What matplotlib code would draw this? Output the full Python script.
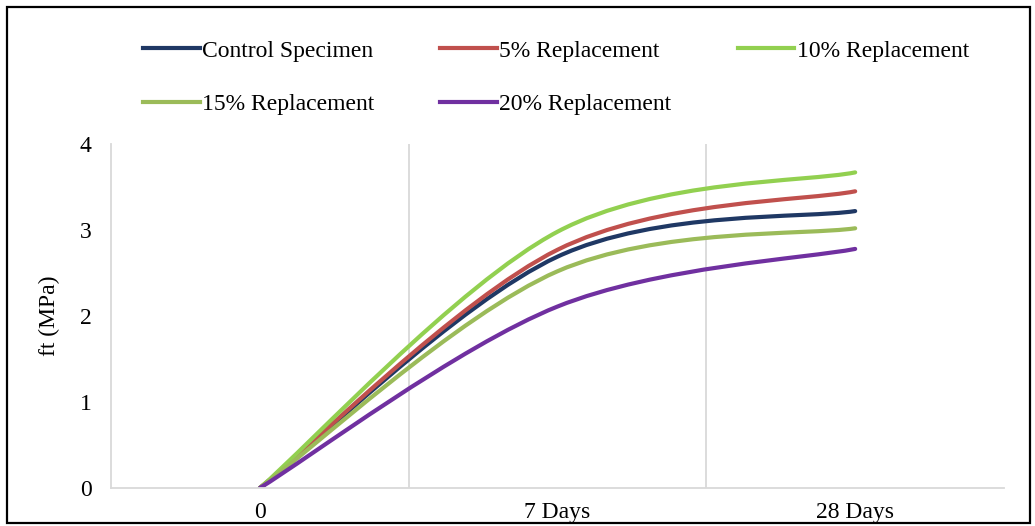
import numpy as np
import matplotlib.pyplot as plt
from matplotlib.path import Path
from matplotlib.patches import PathPatch, Rectangle
from matplotlib.lines import Line2D

kategoriler = ["0", "7 Days", "28 Days"]
kontrol = [0, 2.69, 3.22]
yuzde5 = [0, 2.77, 3.45]
yuzde10 = [0, 2.98, 3.67]
yuzde15 = [0, 2.52, 3.02]
yuzde20 = [0, 2.11, 2.78]

seriler = [
    ("Control Specimen", kontrol, "#1F3864"),
    ("5% Replacement", yuzde5, "#C0504D"),
    ("10% Replacement", yuzde10, "#92D050"),
    ("15% Replacement", yuzde15, "#9BBB59"),
    ("20% Replacement", yuzde20, "#7030A0"),
]


def yumusak_yol(xs, ys):
    # Excel benzeri yumusak cizgi (Catmull-Rom -> Bezier)
    p = np.column_stack([xs, ys]).astype(float)
    n = len(p)
    verts = [p[0]]
    codes = [Path.MOVETO]
    for i in range(n - 1):
        p0 = p[i - 1] if i > 0 else p[i]
        p1 = p[i]
        p2 = p[i + 1]
        p3 = p[i + 2] if i + 2 < n else p[i + 1]
        c1 = p1 + (p2 - p0) / 6.0
        c2 = p2 - (p3 - p1) / 6.0
        verts += [c1, c2, p2]
        codes += [Path.CURVE4] * 3
    return Path(verts, codes)


plt.rcParams['font.family'] = ['Liberation Serif', 'DejaVu Serif']
fig = plt.figure(figsize=(10.35, 5.26), dpi=100)
ax = fig.add_axes([111 / 1035, 1 - 488 / 526, (1004 - 111) / 1035, (488 - 144) / 526])

x = np.arange(len(kategoriler))
handles = []
for ad, deger, renk in seriler:
    yol = yumusak_yol(x, deger)
    ax.add_patch(PathPatch(yol, fill=False, edgecolor=renk, lw=3.0, capstyle='round'))
    handles.append(Line2D([], [], color=renk, lw=3.0, label=ad))

ax.set_xlim(-0.5, len(kategoriler) - 0.5)
ax.set_ylim(0, 4)
ax.set_xticks(x)
ax.set_xticklabels(kategoriler, fontsize=17)
ax.set_yticks([0, 1, 2, 3, 4])
ax.set_yticklabels(["0", "1", "2", "3", "4"], fontsize=17)
ax.tick_params(length=0)
ax.tick_params(axis='y', pad=14)
ax.tick_params(axis='x', pad=10)
for v in [0.5, 1.5]:
    ax.axvline(v, color="#D9D9D9", lw=1.3, zorder=0)
for s in ["top", "right"]:
    ax.spines[s].set_visible(False)
ax.spines["left"].set_color("#D9D9D9")
ax.spines["bottom"].set_color("#D9D9D9")
ax.spines["left"].set_linewidth(1.3)
ax.spines["bottom"].set_linewidth(1.3)
ax.set_ylabel("ft (MPa)", fontsize=17, labelpad=14)

# satir sirasina gore lejant: matplotlib sutun sutun doldurur
sira = [0, 3, 1, 4, 2]
fig.legend(handles=[handles[i] for i in sira], loc="upper left",
           bbox_to_anchor=(143 / 1035, 1 - 40 / 526),
           ncol=3, frameon=False, fontsize=17, handlelength=2.4, handletextpad=0.1,
           columnspacing=2.8, labelspacing=1.35, borderpad=0, borderaxespad=0)

fig.patches.append(Rectangle((7 / 1035, 3 / 526), 1023 / 1035, 516 / 526, transform=fig.transFigure,
                             fill=False, edgecolor="black", lw=1.6))

fig.savefig("out.png", dpi=100)
